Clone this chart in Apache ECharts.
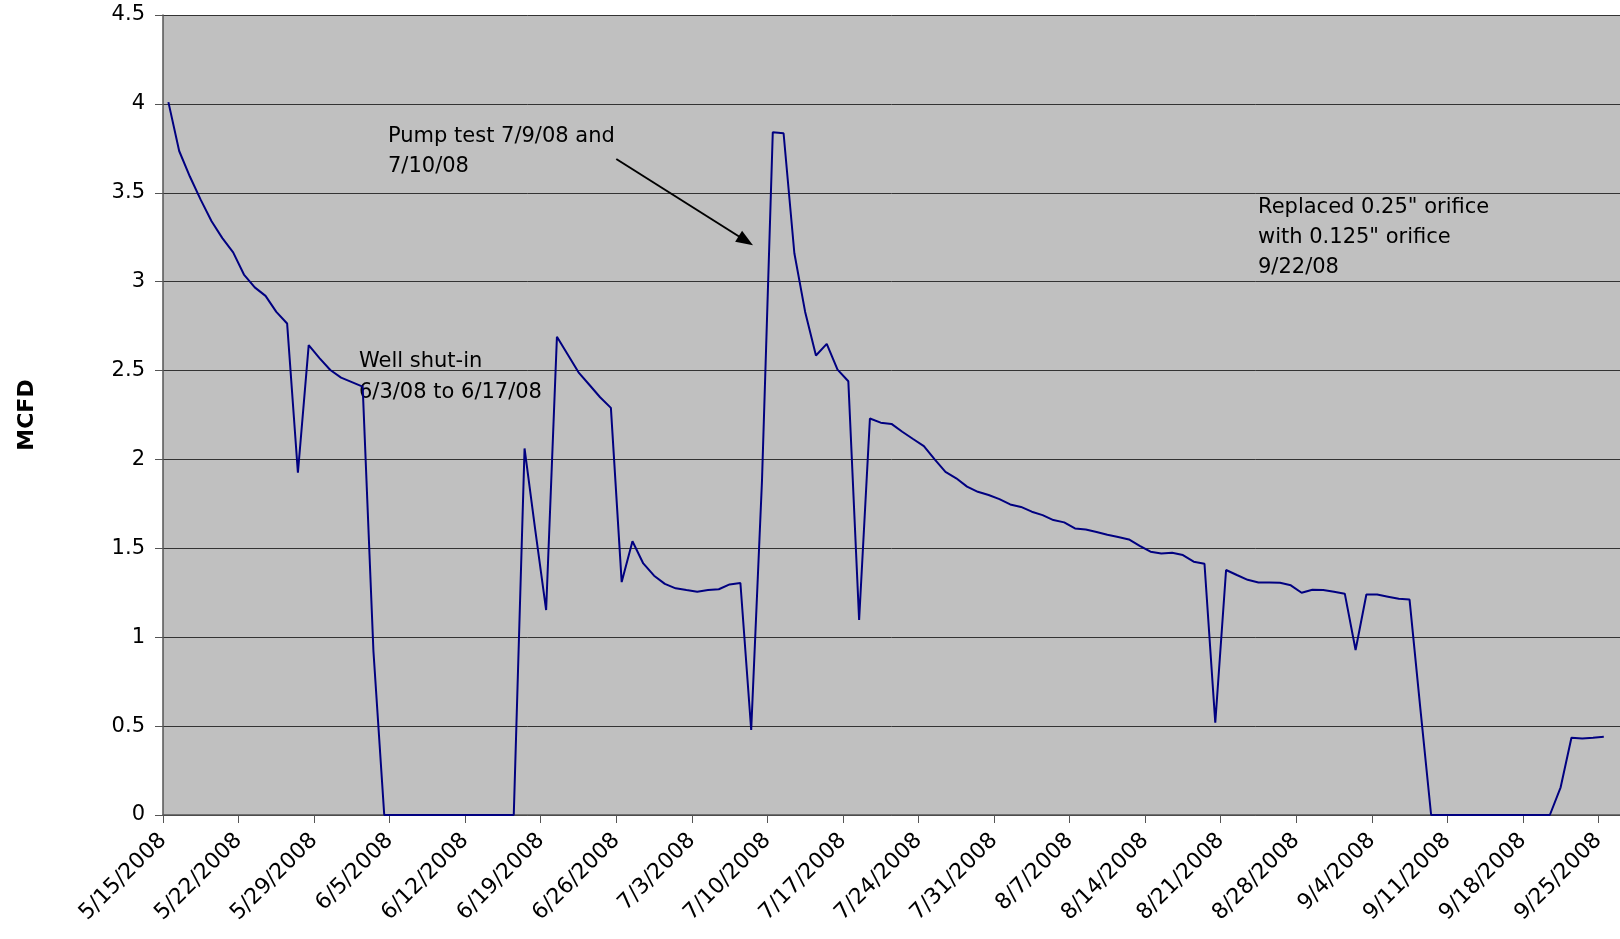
<!DOCTYPE html>
<html>
<head>
    <meta charset="utf-8">
    <script src="https://cdn.jsdelivr.net/npm/echarts@6/dist/echarts.min.js"></script>
    <style>
        html, body { margin: 0; padding: 0; background: #fff; }
        #main { width: 1620px; height: 939px; }
    </style>
</head>

<body>
    <div id="main"></div>

    <script type="text/javascript">
        // daily readings starting 5/15/2008 (one value per day)
        var startDate = Date.UTC(2008, 4, 15);
        var flow = [
            4.01, 3.735, 3.59, 3.46, 3.34, 3.245, 3.165, 3.04, 2.968, 2.92,
            2.83, 2.765, 1.925, 2.643, 2.57, 2.503, 2.46, 2.435, 2.41, 0.92,
            0, 0, 0, 0, 0, 0, 0, 0, 0, 0,
            0, 0, 0, 2.062, 1.6, 1.153, 2.69, 2.59, 2.49, 2.42,
            2.35, 2.29, 1.31, 1.54, 1.415, 1.346, 1.30, 1.275, 1.265, 1.256,
            1.265, 1.27, 1.297, 1.305, 0.478, 1.88, 3.84, 3.835, 3.16, 2.83,
            2.585, 2.65, 2.505, 2.44, 1.097, 2.23, 2.207, 2.2, 2.156, 2.115,
            2.075, 2.0, 1.93, 1.894, 1.847, 1.818, 1.80, 1.777, 1.747, 1.733,
            1.706, 1.687, 1.659, 1.646, 1.612, 1.606, 1.592, 1.576, 1.564, 1.55,
            1.514, 1.481, 1.471, 1.475, 1.462, 1.425, 1.413, 0.519, 1.378, 1.35,
            1.323, 1.308, 1.308, 1.306, 1.292, 1.25, 1.267, 1.265, 1.256, 1.245,
            0.928, 1.24, 1.24, 1.228, 1.216, 1.212, 0.6, 0, 0, 0,
            0, 0, 0, 0, 0, 0, 0, 0, 0, 0.156,
            0.435, 0.431, 0.434, 0.44
        ];
        var dayCount = 135;
        var tickDays = 7;

        var pumpNote = 'Pump test 7/9/08 and\n7/10/08';
        var shutNote = 'Well shut-in\n6/3/08 to 6/17/08';
        var orificeNote = 'Replaced 0.25" orifice\nwith 0.125" orifice\n9/22/08';

        function dayLabel(d) {
            var dt = new Date(startDate + d * 86400000);
            return (dt.getUTCMonth() + 1) + '/' + dt.getUTCDate() + '/' + dt.getUTCFullYear();
        }

        // excel-style date axis: each reading sits in the middle of its day
        var points = flow.map(function (v, i) { return [i + 0.5, v]; });

        var font = 'DejaVu Sans';
        var myChart = echarts.init(document.getElementById('main'));

        myChart.setOption({
            backgroundColor: '#ffffff',
            animation: false,
            grid: {
                left: 163,
                top: 15,
                right: 0,
                bottom: 124,
                show: true,
                backgroundColor: '#c0c0c0',
                borderWidth: 0
            },
            xAxis: {
                type: 'value',
                min: 0,
                max: dayCount,
                interval: tickDays,
                axisLine: { onZero: false, lineStyle: { color: '#555', width: 1.5 } },
                axisTick: { show: true, length: 8, lineStyle: { color: '#555' } },
                splitLine: { show: false },
                axisLabel: {
                    rotate: 45,
                    margin: 22,
                    color: '#000',
                    fontFamily: font,
                    fontSize: 22,
                    showMaxLabel: false,
                    formatter: function (v) {
                        return v % tickDays === 0 ? dayLabel(v) : '';
                    }
                }
            },
            yAxis: {
                type: 'value',
                min: 0,
                max: 4.5,
                interval: 0.5,
                name: 'MCFD',
                nameLocation: 'middle',
                nameRotate: 90,
                nameGap: 125,
                nameTextStyle: { color: '#000', fontFamily: font, fontSize: 22, fontWeight: 'bold' },
                axisLine: { show: true, lineStyle: { color: '#555', width: 1.5 } },
                axisTick: { show: true, length: 8, lineStyle: { color: '#555' } },
                splitLine: { show: true, lineStyle: { color: '#333', width: 1 } },
                axisLabel: { margin: 18, color: '#000', fontFamily: font, fontSize: 21 }
            },
            series: [{
                type: 'line',
                data: points,
                showSymbol: false,
                symbol: 'none',
                lineStyle: { color: '#000080', width: 2 },
                markLine: {
                    silent: true,
                    symbol: ['none', 'triangle'],
                    symbolSize: [13, 17],
                    label: { show: false },
                    lineStyle: { color: '#000', width: 2, type: 'solid' },
                    data: [[{ coord: [42.0, 3.69] }, { coord: [54.0, 3.23] }]]
                }
            }],
            graphic: [
                {
                    type: 'text', left: 388, top: 122,
                    style: { text: pumpNote, fill: '#000', font: '21px "DejaVu Sans"', lineHeight: 30 }
                },
                {
                    type: 'text', left: 359, top: 346,
                    style: { text: shutNote, fill: '#000', font: '21px "DejaVu Sans"', lineHeight: 31 }
                },
                {
                    type: 'text', left: 1258, top: 193,
                    style: { text: orificeNote, fill: '#000', font: '21px "DejaVu Sans"', lineHeight: 30 }
                }
            ]
        });
    </script>
</body>

</html>
